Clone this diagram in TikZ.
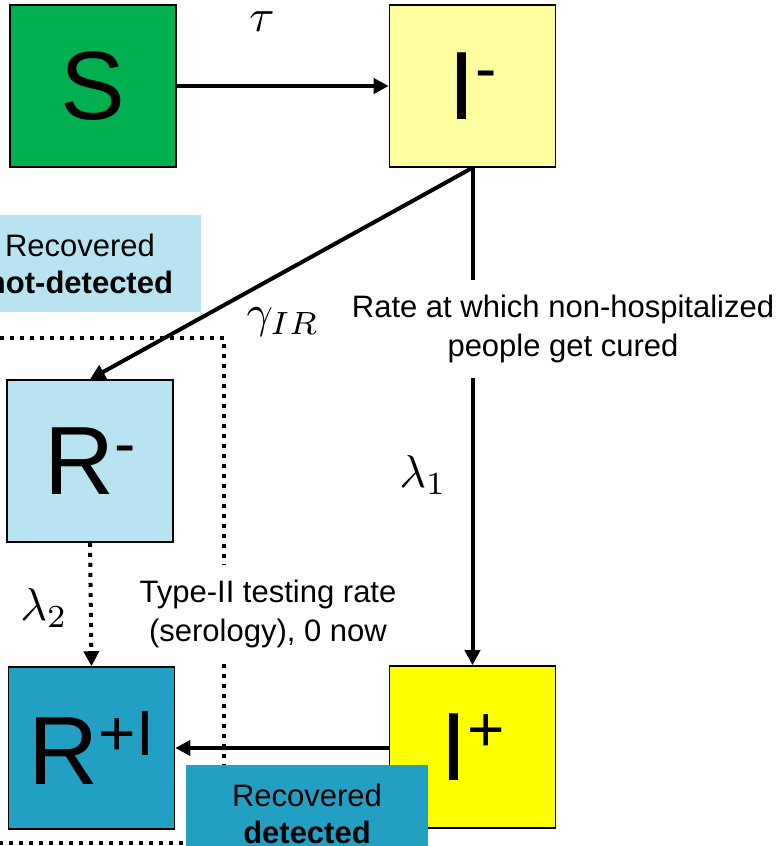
\documentclass[tikz,border=0pt]{standalone}
\usepackage{fontspec}
\usepackage{graphicx}
\setmainfont{Liberation Sans}
\usetikzlibrary{arrows.meta}

\definecolor{sgreen}{RGB}{0,176,80}
\definecolor{ilight}{RGB}{255,255,160}
\definecolor{iyellow}{RGB}{255,255,0}
\definecolor{rlight}{RGB}{183,228,240}
\definecolor{rteal}{RGB}{33,160,196}

% compartment letter with a raised superscript mark
\newcommand\cmpname[2]{#1\raisebox{29pt}{\fontsize{64}{64}\selectfont #2}}
% enlarged rate symbol
\newcommand\ratesym[1]{\scalebox{4.6}{$#1$}}

\begin{document}
\begin{tikzpicture}[x=1pt,y=-1pt,
  compartment/.style={draw=black, line width=1.6pt, minimum width=166pt,
    minimum height=162pt, inner sep=0pt, font=\fontsize{97}{97}\selectfont},
  flow/.style={line width=4pt, -{Triangle[length=15pt,width=15pt]}},
  dotflow/.style={flow, dash pattern=on 4pt off 6pt},
  tag/.style={fill=white, align=center, inner xsep=2pt, inner ysep=15pt,
    font=\fontsize{31}{39}\selectfont},
  group/.style={fill=#1, minimum width=242pt, minimum height=97pt,
    inner sep=0pt, align=center, font=\fontsize{31}{37}\selectfont},
  rate/.style={inner sep=0pt}
]
\useasboundingbox (0,0) rectangle (783,846);
\clip (0,0) rectangle (783,846);

% dotted frame around the recovered compartments
\draw[line width=4pt, dash pattern=on 4pt off 6pt] (-20,338) -- (224,338) -- (224,843) -- (-20,843);

% compartments
\node[compartment, fill=sgreen] (S)  at (93,86)    {S};
\node[compartment, fill=ilight] (Im) at (472.5,86) {\cmpname{I}{-}};
\node[compartment, fill=rlight] (Rm) at (90,461)   {\cmpname{R}{-}};
\node[compartment, fill=rteal]  (Rp) at (91.5,748) {\cmpname{R}{+I}};
\node[compartment, fill=iyellow] (Ip) at (472.5,747) {\cmpname{I}{+}};

% flows
\draw[flow] (S) -- (Im);
\draw[flow] (Im.south) -- (Rm.north);
\draw[flow] (Im.south) -- (Ip.north);
\draw[dotflow] (Rm.south) -- (Rp.north);
\draw[flow] (Ip.west |- 0,748) -- (Rp.east |- 0,748);

% rate labels
\node[rate] (tau) at (262,22) {\ratesym{\tau}};
\node[rate] (gam) at (283,322) {\ratesym{\gamma_{IR}}};
\node[rate] (l1)  at (423,475) {\ratesym{\lambda_1}};
\node[rate] (l2)  at (44,608)  {\ratesym{\lambda_2}};

% explanatory notes
\node[tag] (cure) at (563,329) {Rate at which non-hospitalized\\people get cured};
\node[tag] (sero) at (268,614) {Type-II testing rate\\(serology), 0 now};

% group captions
\node[group=rlight] (nd) at (80,263.5) {Recovered\\\textbf{not-detected}};
\node[group=rteal]  (dd) at (307,813.5) {Recovered\\\textbf{detected}};
\end{tikzpicture}
\end{document}
